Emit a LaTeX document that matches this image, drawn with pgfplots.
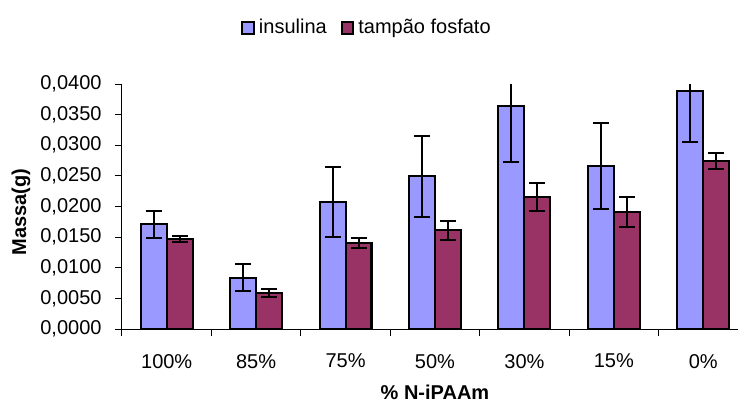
\documentclass[border=0pt]{standalone}
\usepackage{fontspec}
\setmainfont{Liberation Sans}
\usepackage{pgfplots}
\pgfplotsset{compat=1.18}
\definecolor{insul}{HTML}{9999FF}
\definecolor{tamp}{HTML}{993366}
\begin{document}
\begin{tikzpicture}
\begin{axis}[
  scale only axis,
  width=313pt, height=122.5pt,
  xmin=-0.5, xmax=6.5,
  ymin=0, ymax=0.04,
  ybar=0pt, bar width=0.29,
  axis x line*=bottom, axis y line*=left,
  axis line style={-, line width=0.5pt, black},
  tick align=outside,
  xtick={0,1,2,3,4,5,6},
  xticklabels={100\%,85\%,75\%,50\%,30\%,15\%,0\%},
  major x tick style={draw=none},
  minor xtick={-0.5,0.5,1.5,2.5,3.5,4.5,5.5,6.5},
  minor x tick style={black, line width=0.5pt},
  minor tick length=3.5pt,
  major tick length=3.5pt,
  ytick={0,0.005,0.01,0.015,0.02,0.025,0.03,0.035,0.04},
  y tick style={black, line width=0.5pt},
  scaled y ticks=false,
  yticklabel style={/pgf/number format/fixed, /pgf/number format/fixed zerofill, /pgf/number format/precision=4, /pgf/number format/use comma, /pgf/number format/assume math mode=true},
  yticklabel style={font=\fontsize{10}{12}\selectfont, xshift=-3.2pt},
  xticklabel style={font=\fontsize{10}{12}\selectfont, yshift=-5.5pt},
  xlabel={\% N-iPAAm},
  every axis x label/.style={font=\fontsize{10}{12}\selectfont\bfseries, at={(axis description cs:0.5,0)}, yshift=-31.5pt, anchor=center},
  ylabel={Massa(g)},
  every axis y label/.style={font=\fontsize{10}{12}\selectfont\bfseries, at={(axis description cs:0,0.478)}, xshift=-50.5pt, rotate=90, anchor=center},
  legend columns=2,
  legend style={draw=none, fill=none, at={(axis description cs:0.393,1.228)}, anchor=center, font=\fontsize{10}{12}\selectfont, inner sep=0pt,
    /tikz/every even column/.append style={column sep=5pt}},
  legend image code/.code={\draw[#1, draw=black, line width=1pt] (0pt,-2.9pt) rectangle (5.8pt,2.9pt);},
  error bars/error bar style={line width=1pt, black},
  error bars/error mark options={rotate=90, mark size=4pt, line width=1pt, black},
]
\addplot[fill=insul, draw=black, line width=1pt,
  error bars/.cd, y dir=both, y explicit]
  coordinates {
  (0,0.0171) +- (0,0.0022)
  (1,0.0084) +- (0,0.0022)
  (2,0.0207) +- (0,0.0057)
  (3,0.0249) +- (0,0.0066)
  (4,0.0364) +- (0,0.0092)
  (5,0.0266) +- (0,0.0070)
  (6,0.0389) +- (0,0.0084)
  };
\addlegendentry{insulina}
\addplot[fill=tamp, draw=black, line width=1pt,
  error bars/.cd, y dir=both, y explicit]
  coordinates {
  (0,0.0147) +- (0,0.0005)
  (1,0.0059) +- (0,0.0006)
  (2,0.0140) +- (0,0.0008)
  (3,0.0161) +- (0,0.0015)
  (4,0.0216) +- (0,0.0023)
  (5,0.0191) +- (0,0.0024)
  (6,0.0274) +- (0,0.0013)
  };
\addlegendentry{tampão fosfato}
\end{axis}
\pgfresetboundingbox
\useasboundingbox (-61pt,-37pt) rectangle (308pt,164.5pt);
\end{tikzpicture}
\end{document}
